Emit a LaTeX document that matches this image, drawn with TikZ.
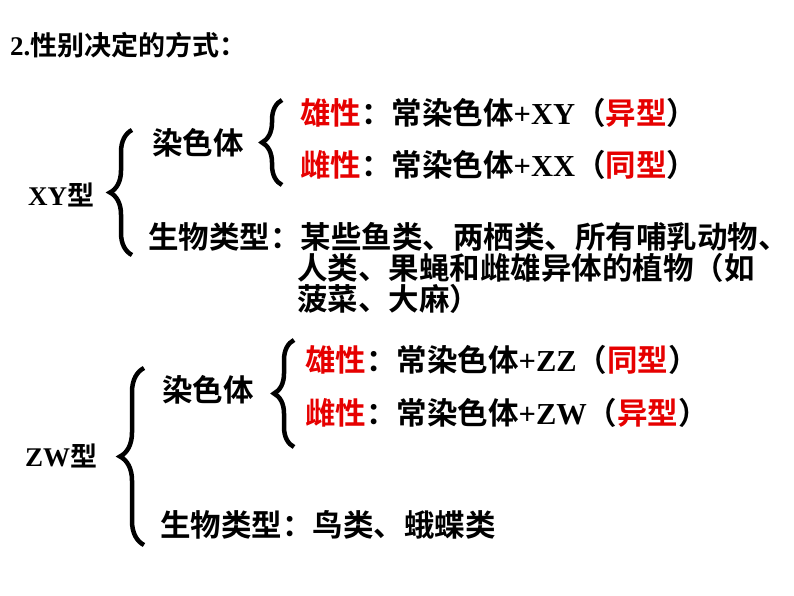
\documentclass[tikz,border=0pt]{standalone}
\usepackage{fontspec}
\setmainfont{Liberation Serif}
\newfontfamily\cjk{Noto Sans CJK SC}[BoldFont={* Bold}]
\usetikzlibrary{decorations.pathreplacing}
\definecolor{myred}{RGB}{230,0,0}
\newcommand{\zh}[1]{{\cjk\bfseries #1}}
\begin{document}
\begin{tikzpicture}[x=1pt,y=-1pt,
  t/.style={anchor=west,inner sep=0pt,font=\fontsize{30.5}{34}\selectfont\bfseries},
  br/.style={decorate,decoration={brace,amplitude=#1},line width=4.5pt}]
\useasboundingbox (0,0) rectangle (794,596);
\node[t,font=\fontsize{27}{30}\selectfont\bfseries] (title) at (10,45) {2.\zh{性别决定的方式：}};
% XY
\node[t,font=\fontsize{27}{30}\selectfont\bfseries] (xy) at (28,195) {XY\zh{型}};
\draw[br=22] (132,255) -- (132,130) coordinate (b1);
\node[t] (c1) at (152,143) {\zh{染色体}};
\draw[br=20] (282,185) -- (282,100) coordinate (b2);
\node[t] (m1) at (300,113) {\zh{\textcolor{myred}{雄性}：常染色体}+XY\zh{（\textcolor{myred}{异型}）}};
\node[t] (f1) at (300,165) {\zh{\textcolor{myred}{雌性}：常染色体}+XX\zh{（\textcolor{myred}{同型}）}};
\node[t] (s1) at (148,237) {\zh{生物类型：某些鱼类、两栖类、所有哺乳动物、}};
\node[t] (s2) at (297,268) {\zh{人类、果蝇和雌雄异体的植物（如}};
\node[t] (s3) at (297,299) {\zh{菠菜、大麻）}};
% ZW
\node[t,font=\fontsize{27}{30}\selectfont\bfseries] (zw) at (25,456) {ZW\zh{型}};
\draw[br=24] (144,545) -- (144,368) coordinate (b3);
\node[t] (c2) at (162,390) {\zh{染色体}};
\draw[br=20] (294,447) -- (294,340) coordinate (b4);
\node[t] (m2) at (305,360) {\zh{\textcolor{myred}{雄性}：常染色体}+ZZ\zh{（\textcolor{myred}{同型}）}};
\node[t] (f2) at (305,413) {\zh{\textcolor{myred}{雌性}：常染色体}+ZW\zh{（\textcolor{myred}{异型}）}};
\node[t] (s4) at (160,525) {\zh{生物类型：鸟类、蛾蝶类}};
\end{tikzpicture}
\end{document}
